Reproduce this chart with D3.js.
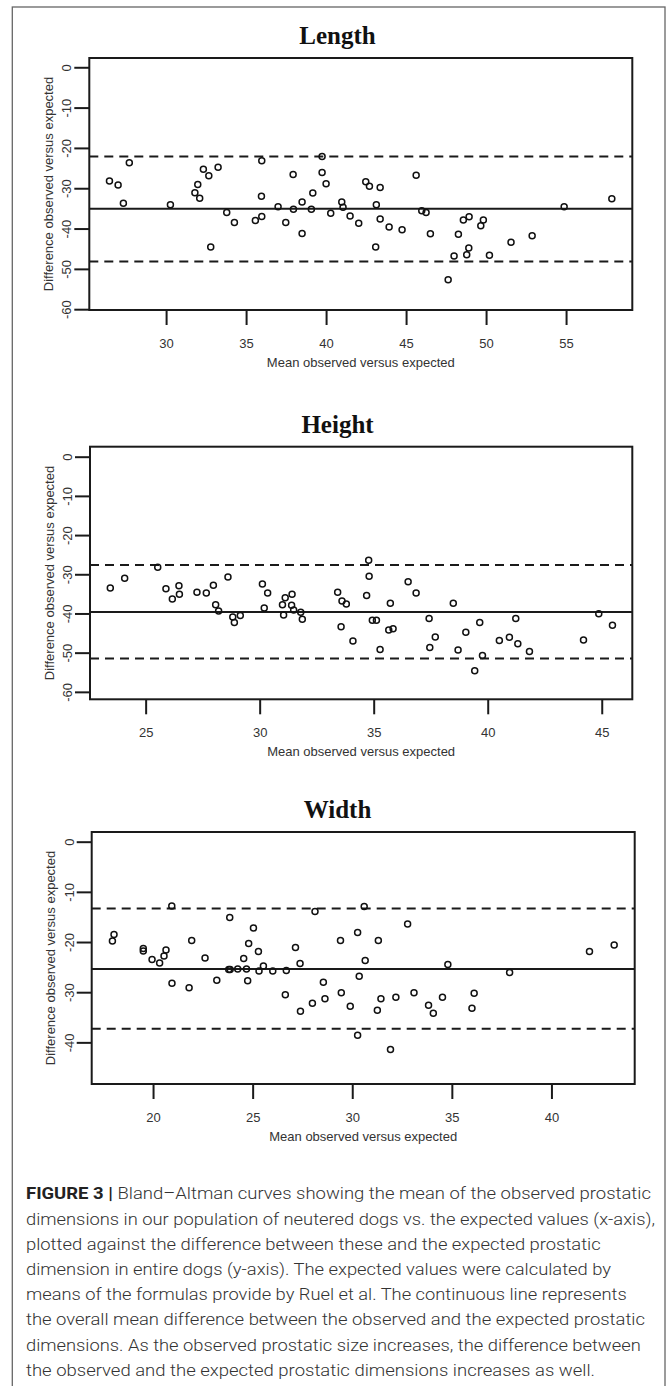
<!DOCTYPE html>
<html><head><meta charset="utf-8">
<script src="https://cdn.jsdelivr.net/npm/d3@7"></script>
<style>body{margin:0;background:#fff}svg{display:block}</style>
</head><body>
<svg id="fig" width="667" height="1386"></svg>
<script>
// ---------------- data ----------------
const panelTitles = ["Length", "Height", "Width"];
const xAxisLabel = "Mean observed versus expected";
const yAxisLabel = "Difference observed versus expected";

const lengthMean = [26.46,27.0,27.33,27.7,30.27,31.8,31.98,32.1,32.33,32.67,33.25,32.79,33.79,34.27,35.58,35.98,35.96,35.98,37.0,37.48,37.94,37.96,38.5,38.5,39.08,39.17,39.75,39.75,40.0,40.29,40.98,41.06,41.5,42.04,42.48,42.71,43.38,43.14,43.38,43.1,43.94,44.75,45.63,45.98,46.25,46.52,47.63,48.0,48.27,48.58,48.94,48.92,48.79,49.67,49.83,50.21,51.56,52.88,54.88,57.86];
const lengthDiff = [-28.2,-29.2,-33.7,-23.7,-34.1,-31.1,-29.1,-32.5,-25.3,-26.9,-24.8,-44.6,-36.0,-38.5,-38.0,-37.0,-32.0,-23.2,-34.6,-38.5,-26.6,-35.2,-33.4,-41.2,-35.2,-31.2,-22.1,-26.1,-28.9,-36.2,-33.4,-34.7,-36.9,-38.7,-28.4,-29.5,-29.8,-34.1,-37.6,-44.6,-39.6,-40.3,-26.8,-35.6,-36.0,-41.3,-52.7,-46.8,-41.4,-37.9,-37.1,-44.8,-46.5,-39.3,-37.9,-46.6,-43.4,-41.8,-34.6,-32.6];
const lengthLimits = [-22.1, -35.1, -48.2];   // upper LoA, mean, lower LoA
const lengthXTicks = [30, 35, 40, 45, 50, 55];
const lengthYTicks = [0, -10, -20, -30, -40, -50, -60];

const heightMean = [23.45,24.08,25.53,25.89,26.17,26.46,26.48,27.25,27.66,27.97,28.07,28.2,28.61,28.82,28.89,29.15,30.12,30.35,30.2,31.0,31.12,31.42,31.4,31.05,31.49,31.8,31.87,33.42,33.61,33.8,33.57,34.09,34.78,34.8,34.69,34.94,35.12,35.28,35.66,35.85,35.73,36.51,36.86,37.43,37.7,37.46,38.49,38.7,39.04,39.43,39.65,39.77,40.51,40.95,41.23,41.32,41.83,44.2,44.87,45.47];
const heightDiff = [-33.5,-31.0,-28.2,-33.7,-36.3,-32.9,-35.1,-34.6,-34.8,-32.8,-37.8,-39.4,-30.7,-40.9,-42.3,-40.5,-32.5,-34.8,-38.6,-37.8,-36.0,-35.1,-37.9,-40.4,-39.1,-39.7,-41.5,-34.6,-36.8,-37.6,-43.4,-47.0,-26.4,-30.5,-35.4,-41.7,-41.7,-49.2,-44.2,-43.9,-37.4,-31.9,-34.8,-41.3,-46.0,-48.7,-37.4,-49.3,-44.8,-54.6,-42.3,-50.7,-46.9,-46.1,-41.3,-47.7,-49.7,-46.8,-40.1,-43.0];
const heightLimits = [-27.65, -39.6, -51.5];
const heightXTicks = [25, 30, 35, 40, 45];
const heightYTicks = [0, -10, -20, -30, -40, -50, -60];

const widthMean = [17.96,18.04,19.51,19.51,19.95,20.33,20.55,20.65,20.94,20.95,21.81,21.94,22.61,23.2,23.85,23.8,23.87,24.25,24.69,24.55,24.8,24.75,25.04,25.29,25.32,25.54,26.01,26.69,26.64,27.15,27.38,27.4,28.0,28.13,28.55,28.63,29.41,29.45,29.9,30.27,30.35,30.27,30.6,30.65,31.31,31.26,31.44,31.92,32.19,32.78,33.1,33.83,34.07,34.53,34.8,36.01,36.12,37.9,41.91,43.15];
const widthDiff = [-19.8,-18.5,-21.3,-21.8,-23.5,-24.2,-22.8,-21.6,-12.8,-28.2,-29.1,-19.7,-23.2,-27.6,-15.1,-25.5,-25.5,-25.4,-25.4,-23.3,-20.3,-27.7,-17.2,-21.9,-25.8,-24.8,-25.8,-25.7,-30.5,-21.1,-24.3,-33.8,-32.2,-13.9,-28.0,-31.3,-19.7,-30.1,-32.8,-18.1,-26.8,-38.6,-12.9,-23.7,-19.7,-33.6,-31.3,-41.4,-31.0,-16.4,-30.1,-32.6,-34.2,-31.0,-24.5,-33.2,-30.2,-26.1,-21.9,-20.6];
const widthLimits = [-13.3, -25.4, -37.3];
const widthXTicks = [20, 25, 30, 35, 40];
const widthYTicks = [0, -10, -20, -30, -40];

const captionBold = "FIGURE 3 |";
const captionLines = [
  " Bland\u2013Altman curves showing the mean of the observed prostatic",
  "dimensions in our population of neutered dogs vs. the expected values (x-axis),",
  "plotted against the difference between these and the expected prostatic",
  "dimension in entire dogs (y-axis). The expected values were calculated by",
  "means of the formulas provide by Ruel et al. The continuous line represents",
  "the overall mean difference between the observed and the expected prostatic",
  "dimensions. As the observed prostatic size increases, the difference between",
  "the observed and the expected prostatic dimensions increases as well."
];

// ---------------- layout ----------------
const panels = [
  {title: panelTitles[0], mean: lengthMean, diff: lengthDiff, limits: lengthLimits, xt: lengthXTicks, yt: lengthYTicks,
   box: {l: 89.3, r: 632.3, t: 58, b: 310}, xd: [25.2, 59.14], yd: [-60.2, 2.3]},
  {title: panelTitles[1], mean: heightMean, diff: heightDiff, limits: heightLimits, xt: heightXTicks, yt: heightYTicks,
   box: {l: 90, r: 632.3, t: 446.7, b: 699.3}, xd: [22.56, 46.34], yd: [-61.9, 2.55]},
  {title: panelTitles[2], mean: widthMean, diff: widthDiff, limits: widthLimits, xt: widthXTicks, yt: widthYTicks,
   box: {l: 91.7, r: 634.7, t: 832, b: 1084}, xd: [16.92, 44.18], yd: [-48.3, 1.93]}
];

const svg = d3.select("#fig");
svg.append("rect").attr("width", 667).attr("height", 1386).attr("fill", "#fff");
svg.append("rect").attr("x", 12.3).attr("y", 7).attr("width", 652.7).attr("height", 1400)
  .attr("fill", "none").attr("stroke", "#666").attr("stroke-width", 1.3);

const sans = "'Liberation Sans', Arial, Helvetica, sans-serif";
const serif = "'Liberation Serif', 'Times New Roman', serif";
const fmt = d => String(d);   // plain hyphen-minus like the original

panels.forEach((p, i) => {
  const x = d3.scaleLinear().domain(p.xd).range([p.box.l, p.box.r]);
  const y = d3.scaleLinear().domain(p.yd).range([p.box.b, p.box.t]);
  const g = svg.append("g");
  const clipId = "clip" + i;
  svg.append("clipPath").attr("id", clipId).append("rect")
    .attr("x", p.box.l).attr("y", p.box.t).attr("width", p.box.r - p.box.l).attr("height", p.box.b - p.box.t);

  // title
  g.append("text").attr("x", 337.5).attr("y", p.box.t - 14)
    .attr("text-anchor", "middle").attr("font-family", serif).attr("font-weight", "bold")
    .attr("font-size", 25).attr("fill", "#111").text(p.title);

  const plot = g.append("g").attr("clip-path", `url(#${clipId})`);
  // limit lines
  plot.selectAll("line.lim").data(p.limits).join("line").attr("class", "lim")
    .attr("x1", p.box.l).attr("x2", p.box.r)
    .attr("y1", d => y(d)).attr("y2", d => y(d))
    .attr("stroke", "#1a1a1a").attr("stroke-width", 2)
    .attr("stroke-dasharray", (d, j) => j === 1 ? null : "9,6");
  // points
  plot.selectAll("circle").data(p.mean.map((m, k) => [m, p.diff[k]])).join("circle")
    .attr("cx", d => x(d[0])).attr("cy", d => y(d[1])).attr("r", 3)
    .attr("fill", "none").attr("stroke", "#111").attr("stroke-width", 1.5);

  // box
  g.append("rect").attr("x", p.box.l).attr("y", p.box.t)
    .attr("width", p.box.r - p.box.l).attr("height", p.box.b - p.box.t)
    .attr("fill", "none").attr("stroke", "#1a1a1a").attr("stroke-width", 2);

  // x axis
  const xa = g.append("g").attr("transform", `translate(0,${p.box.b})`)
    .call(d3.axisBottom(x).tickValues(p.xt).tickFormat(fmt).tickSize(15).tickPadding(13.8));
  xa.select(".domain").remove();
  xa.selectAll(".tick line").attr("stroke", "#1a1a1a").attr("stroke-width", 2);
  xa.selectAll(".tick text").attr("font-family", sans).attr("font-size", 13).attr("fill", "#333");

  // y axis
  const ya = g.append("g").attr("transform", `translate(${p.box.l},0)`)
    .call(d3.axisLeft(y).tickValues(p.yt).tickFormat(fmt).tickSize(15));
  ya.select(".domain").remove();
  ya.selectAll(".tick line").attr("stroke", "#1a1a1a").attr("stroke-width", 2);
  ya.selectAll(".tick text")
    .attr("x", 0).attr("dy", null).attr("y", 0)
    .attr("transform", "translate(-22.6,0) rotate(-90)")
    .attr("text-anchor", "middle").attr("dominant-baseline", "central")
    .attr("font-family", sans).attr("font-size", 13).attr("fill", "#333");

  // axis labels
  g.append("text").attr("x", (p.box.l + p.box.r) / 2).attr("y", p.box.b + 57)
    .attr("text-anchor", "middle").attr("font-family", sans).attr("font-size", 13)
    .attr("fill", "#333").text(xAxisLabel);
  g.append("text").attr("transform", `translate(${p.box.l - 41},${(p.box.t + p.box.b) / 2}) rotate(-90)`)
    .attr("text-anchor", "middle").attr("dominant-baseline", "central")
    .attr("font-family", sans).attr("font-size", 13).attr("fill", "#333").text(yAxisLabel);
});

// caption
const capEnds = [651, 655, 600.7, 611, 626.7, 645, 640.7, 595];
const capX = 26, capY0 = 1199.3, capLH = 25.2;
captionLines.forEach((line, i) => {
  const t = svg.append("text").attr("x", capX).attr("y", capY0 + i * capLH)
    .attr("font-family", "Roboto, 'Liberation Sans', sans-serif").attr("font-weight", 300)
    .attr("font-size", 17).attr("fill", "#333")
    .attr("textLength", capEnds[i] - capX).attr("lengthAdjust", "spacingAndGlyphs");
  if (i === 0) {
    t.append("tspan").attr("font-weight", 700).attr("fill", "#222").text(captionBold);
  }
  t.append("tspan").text(line);
});
</script>
</body></html>
